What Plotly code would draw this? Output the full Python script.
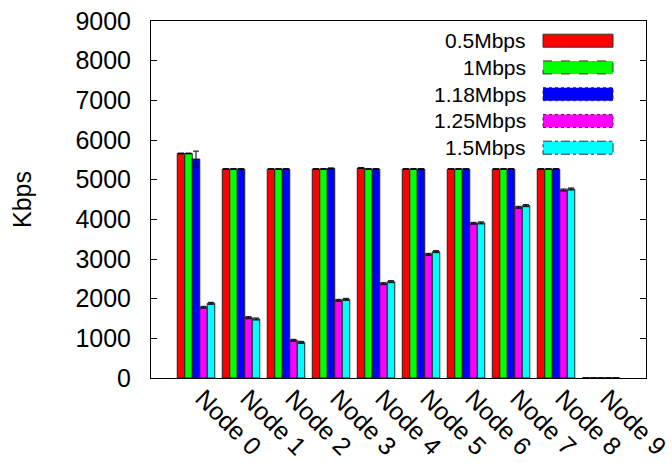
import plotly.graph_objects as go

nodes = ["Node 0", "Node 1", "Node 2", "Node 3", "Node 4",
         "Node 5", "Node 6", "Node 7", "Node 8", "Node 9"]
series_names = ["0.5Mbps", "1Mbps", "1.18Mbps", "1.25Mbps", "1.5Mbps"]

v_05 = [5660, 5268, 5268, 5268, 5293, 5268, 5268, 5268, 5268, 0]
v_10 = [5660, 5268, 5268, 5268, 5268, 5268, 5268, 5268, 5268, 0]
v_118 = [5520, 5268, 5268, 5285, 5268, 5268, 5268, 5268, 5268, 0]
v_125 = [1782, 1521, 950, 1958, 2378, 3118, 3899, 4303, 4739, 0]
v_15 = [1883, 1487, 899, 1983, 2428, 3185, 3910, 4345, 4765, 0]

e_05 = [10, 10, 10, 10, 10, 10, 10, 10, 10, 0]
e_10 = [10, 10, 10, 10, 10, 10, 10, 10, 10, 0]
e_118 = [200, 10, 10, 10, 10, 10, 10, 10, 10, 0]
e_125 = [25, 25, 25, 25, 25, 25, 25, 25, 25, 0]
e_15 = [25, 25, 25, 25, 25, 25, 25, 25, 25, 0]

y_ticks = [0, 1000, 2000, 3000, 4000, 5000, 6000, 7000, 8000, 9000]

values = [v_05, v_10, v_118, v_125, v_15]
errors = [e_05, e_10, e_118, e_125, e_15]
colors = ["#ff0000", "#00ff00", "#0000ff", "#ff00ff", "#00ffff"]
dashes = ["solid", "dash", "dot", "dot", "dashdot"]

FONT = "Liberation Sans, Arial, sans-serif"

fig = go.Figure()
xs = list(range(len(nodes)))
for name, vals, errs, col in zip(series_names, values, errors, colors):
    fig.add_trace(go.Bar(
        x=xs, y=vals, name=name,
        marker=dict(color=col, line=dict(color="#222222", width=1)),
        error_y=dict(type="data", array=errs, color="#000000", thickness=1, width=3),
        showlegend=False,
    ))

# legend drawn manually: text on the left, wide swatch on the right
L, R, T, B = 151, 646, 21, 378
def px(xp):
    return (xp - L) / (R - L)
def py(yp):
    return (B - yp) / (B - T)

for i, (name, col, dsh) in enumerate(zip(series_names, colors, dashes)):
    cy = 40.7 + 26.75 * i
    fig.add_shape(type="rect", xref="paper", yref="paper",
                  x0=px(543), x1=px(613), y0=py(cy + 6.5), y1=py(cy - 6.5),
                  fillcolor=col, line=dict(color="#333333", width=1, dash=dsh))
    fig.add_annotation(xref="paper", yref="paper", x=px(528), y=py(cy),
                       xanchor="right", yanchor="middle", text=name,
                       showarrow=False, font=dict(family=FONT, size=21, color="black"))

# rotated category labels, anchored at each category position
for xi, lab in zip(xs, nodes):
    fig.add_annotation(xref="x", yref="paper", x=xi, y=0,
                       xanchor="left", yanchor="top", textangle=45,
                       xshift=-9, yshift=-3, text=lab, showarrow=False,
                       font=dict(family=FONT, size=25, color="black"))

fig.update_layout(
    width=672, height=463,
    margin=dict(l=L, r=672 - R, t=T, b=463 - B, pad=0, autoexpand=False),
    paper_bgcolor="white", plot_bgcolor="white",
    barmode="group", bargap=1/6, bargroupgap=0,
    font=dict(family=FONT, size=25, color="black"),
    showlegend=False,
)
fig.update_xaxes(
    range=[-1, 10], tickvals=xs, showticklabels=False,
    showline=True, linecolor="black", linewidth=1, mirror=True,
    ticks="", showgrid=False, zeroline=False, automargin=False,
)
fig.update_yaxes(
    range=[0, 9000], tickvals=y_ticks, ticks="inside", ticklen=6,
    tickcolor="black", showline=True, linecolor="black", linewidth=1,
    mirror="ticks", showgrid=False, zeroline=False, automargin=False,
    ticklabelstandoff=14,
    tickfont=dict(family=FONT, size=25, color="black"),
    title=dict(text="Kbps", font=dict(family=FONT, size=25, color="black"), standoff=36),
)

fig.write_html("out.html", config={"displayModeBar": False})
with open("out.html", "r", encoding="utf-8") as f:
    html = f.read()
html = html.replace("<head>", "<head><style>html,body{margin:0;padding:0;overflow:hidden;}</style>", 1)
with open("out.html", "w", encoding="utf-8") as f:
    f.write(html)
